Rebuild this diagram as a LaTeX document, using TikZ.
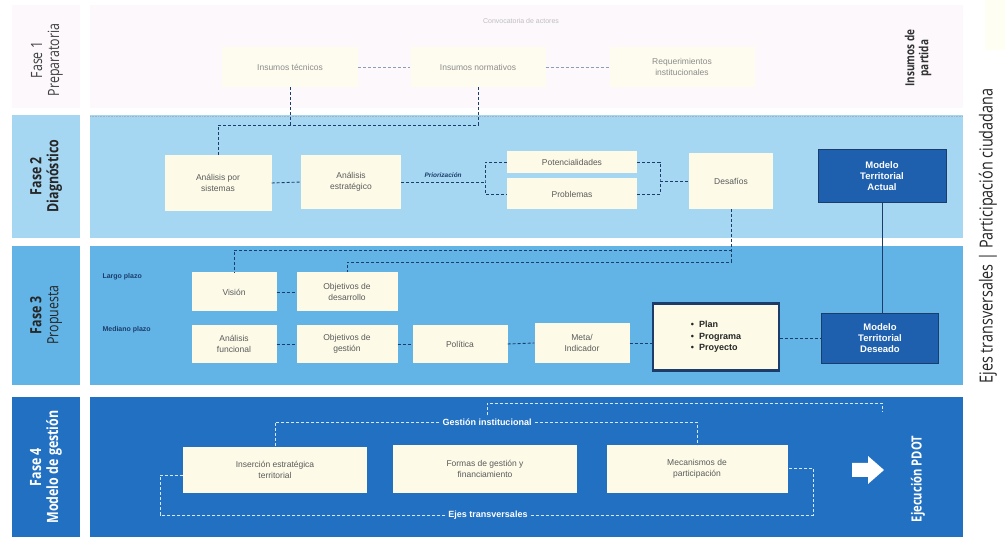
\documentclass[tikz,border=0pt]{standalone}
\usepackage{fontspec}
\setmainfont{Liberation Sans}
\newfontfamily\condfont[FakeStretch=0.8]{Open Sans}
\usetikzlibrary{calc}
\definecolor{fonec}{HTML}{FCF8FB}
\definecolor{ftwoc}{HTML}{A5D7F2}
\definecolor{fthreec}{HTML}{62B4E6}
\definecolor{ffourc}{HTML}{2270C2}
\definecolor{boxc}{HTML}{FDFBE8}
\definecolor{boxtext}{HTML}{5A5A5A}
\definecolor{navy}{HTML}{1C3C6A}
\definecolor{darkbox}{HTML}{1E5FAE}
\definecolor{lightline}{HTML}{D6E8F7}
\tikzset{
  box/.style={fill=boxc, text=boxtext, align=center, inner sep=1pt,
    font=\fontsize{8.5}{10.5}\selectfont},
  faintbox/.style={box, fill=boxc!70!white, text=boxtext!70!white},
  darkmodel/.style={fill=darkbox, draw=navy, line width=0.8pt, text=white, align=center,
    font=\bfseries\fontsize{9.5}{11}\selectfont},
  conn/.style={draw=navy, densely dashed, line width=0.9pt},
  connfour/.style={draw=lightline, densely dashed, line width=0.8pt},
  phase/.style={rotate=90, align=center, font=\condfont\fontsize{15.5}{17}\selectfont},
  plazo/.style={anchor=west, text=navy, font=\bfseries\fontsize{7}{8}\selectfont},
}
\begin{document}
\begin{tikzpicture}[x=1pt,y=-1pt]
\useasboundingbox (0,0) rectangle (1005,537);
\fill[white] (0,0) rectangle (1005,537);
% bands
\fill[fonec] (12,5) rectangle (80,108);
\fill[fonec] (90,5) rectangle (963,108);
\fill[ftwoc] (12,115) rectangle (80,238);
\fill[ftwoc] (90,115) rectangle (963,238);
\fill[fthreec] (12,246) rectangle (80,385);
\fill[fthreec] (90,246) rectangle (963,385);
\fill[ffourc] (12,397) rectangle (80,537);
\fill[ffourc] (90,397) rectangle (963,537);
\fill[yellow!5] (985,0) rectangle (1005,50);
\draw[navy!40, densely dotted, line width=0.6pt] (90,116) -- (963,116);

% phase labels
\node[phase, text=black!75] (l1) at (47,60) {Fase 1\\Preparatoria};
\node[phase, text=black!85] (l2) at (46,176) {\bfseries Fase 2\\\bfseries Diagnóstico};
\node[phase, text=black!85] (l3) at (46,315) {\bfseries Fase 3\\Propuesta};
\node[phase, text=white] (l4) at (46,467) {\bfseries Fase 4\\\bfseries Modelo de gestión};

% Fase 1
\node[text=black!25, font=\fontsize{7}{8}\selectfont] (top) at (521,21) {Convocatoria de actores};
\node[faintbox, minimum width=136, minimum height=40] (it) at (290,67) {Insumos técnicos};
\node[faintbox, minimum width=135, minimum height=40] (in) at (478,67) {Insumos normativos};
\node[faintbox, minimum width=145, minimum height=40] (ir) at (682,67) {Requerimientos\\institucionales};
\node[rotate=90, align=center, text=black!80, font=\condfont\bfseries\fontsize{12.5}{14}\selectfont] (idp) at (918,58) {Insumos de\\partida};
\draw[draw=navy!50, densely dashed, line width=0.8pt] (it.east) -- (in.west);
\draw[draw=navy!50, densely dashed, line width=0.8pt] (in.east) -- (ir.west);

% Fase 2
\node[box, minimum width=107, minimum height=56] (aps) at (218,183) {Análisis por\\sistemas};
\node[box, minimum width=100, minimum height=54] (aes) at (351,182) {Análisis\\estratégico};
\node[box, minimum width=130, minimum height=22] (pot) at (572,162) {Potencialidades};
\node[box, minimum width=130, minimum height=31] (pro) at (572,194) {Problemas};
\node[box, minimum width=84, minimum height=56] (des) at (731,181) {Desafíos};
\node[darkmodel, minimum width=128, minimum height=53] (mta) at (882,176) {Modelo\\Territorial\\Actual};
\coordinate (j1) at (218,125);
\draw[conn] (it.south) -- (it.south |- j1);
\draw[conn] (in.south) -- (in.south |- j1) -- (j1) -- (aps.north);
\draw[conn] (aps.east) -- (aes.west);
\coordinate (bl) at (485,182);
\draw[conn] (aes.east) -- node[above=1pt, text=navy, font=\bfseries\itshape\fontsize{6.5}{7}\selectfont] (prio) {Priorización} (bl);
\draw[conn] (pot.west) -| (bl) |- (pro.west);
\coordinate (br) at (660,181);
\draw[conn] (pot.east) -| (br) |- (pro.east);
\draw[conn] (br) -- (des.west);

% Fase 3
\node[plazo] (lp) at (99,277) {Largo plazo};
\node[plazo] (mp) at (99,330) {Mediano plazo};
\node[box, minimum width=85, minimum height=39] (vis) at (234,292) {Visión};
\node[box, minimum width=101, minimum height=39] (ode) at (347,292) {Objetivos de\\desarrollo};
\node[box, minimum width=85, minimum height=38] (afu) at (234,344) {Análisis\\funcional};
\node[box, minimum width=101, minimum height=38] (oge) at (347,344) {Objetivos de\\gestión};
\node[box, minimum width=95, minimum height=38] (pol) at (460,344) {Política};
\node[box, minimum width=95, minimum height=40] (met) at (582,343) {Meta/\\Indicador};
\node[box, draw=navy, line width=2.2pt, minimum width=126, minimum height=67, text=black!85,
  font=\bfseries\fontsize{9}{11.5}\selectfont, align=left] (ppp) at (716,337)
  {\textbullet\ \ Plan\\\textbullet\ \ Programa\\\textbullet\ \ Proyecto};
\node[darkmodel, minimum width=117, minimum height=50] (mtd) at (880,338) {Modelo\\Territorial\\Deseado};
\coordinate (h1) at (0,250);
\coordinate (h2) at (0,262);
\draw[conn] (des.south) |- (vis.north |- h1) -- (vis.north);
\draw[conn] (des.south) |- (ode.north |- h2) -- (ode.north);
\draw[draw=navy, line width=0.8pt] (mta.south) -- (mta.south |- mtd.north);
\draw[conn] (vis.east) -- (ode.west);
\draw[conn] (afu.east) -- (oge.west);
\draw[conn] (oge.east) -- (pol.west);
\draw[conn] (pol.east) -- (met.west);
\draw[conn] (met.east) -- (ppp.west |- met.east);
\draw[conn] (ppp.east |- mtd.west) -- (mtd.west);

% Fase 4
\node[box, minimum width=184, minimum height=46] (ins) at (275,470) {Inserción estratégica\\territorial};
\node[box, minimum width=184, minimum height=47] (for) at (485,469) {Formas de gestión y\\financiamiento};
\node[box, minimum width=181, minimum height=47] (mec) at (697,469) {Mecanismos de\\participación};
\node[text=white, font=\bfseries\fontsize{9}{10}\selectfont, inner sep=3pt] (gi) at (487,422) {Gestión institucional};
\node[text=white, font=\bfseries\fontsize{9}{10}\selectfont, inner sep=3pt] (et) at (488,515) {Ejes transversales};
\coordinate (t1) at (882,403);
\coordinate (t2) at (882,411);
\draw[connfour] (gi.north) |- (t1) -- (t2);
\draw[connfour] (gi.west) -| (ins.north);
\draw[connfour] (gi.east) -| (mec.north);
\coordinate (c1) at (160,475);
\coordinate (c2) at (813,468);
\draw[connfour] (et.west) -| (c1) -- (c1 -| ins.west);
\draw[connfour] (et.east) -| (c2) -- (c2 -| mec.east);
\coordinate (arr) at (868,470);
\fill[white] ($(arr)+(-16,-7)$) -- ($(arr)+(0,-7)$) -- ($(arr)+(0,-14)$) -- ($(arr)+(16,0)$)
  -- ($(arr)+(0,14)$) -- ($(arr)+(0,7)$) -- ($(arr)+(-16,7)$) -- cycle;
\node[rotate=90, text=white, font=\condfont\bfseries\fontsize{14}{16}\selectfont] (ej) at (918,479) {Ejecución PDOT};

% right vertical text
\node[rotate=90, text=black!85, font=\condfont\fontsize{18}{20}\selectfont] (ejes) at (988,236)
  {Ejes transversales | Participación ciudadana};
\end{tikzpicture}
\end{document}
